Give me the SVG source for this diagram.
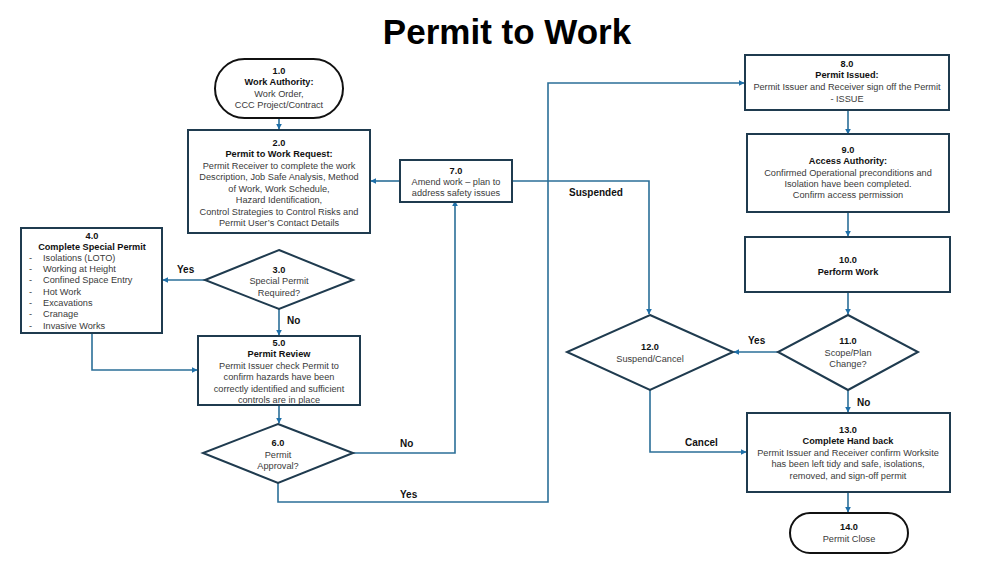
<svg xmlns="http://www.w3.org/2000/svg" width="1003" height="565" viewBox="0 0 1003 565">
<defs>
<marker id="arr" viewBox="0 0 10 10" refX="9" refY="5" markerWidth="6" markerHeight="6" orient="auto" markerUnits="userSpaceOnUse">
<path d="M0,0 L10,5 L0,10 z" fill="#1E6FA8"/>
</marker>
<style>
.box{fill:#fff;stroke:#1F3B4F;stroke-width:2}
.term{fill:#fff;stroke:#111;stroke-width:2}
.t{font-family:"Liberation Sans",Arial,sans-serif;font-size:9.2px;fill:#3a3a3a;text-anchor:middle}
.b{font-family:"Liberation Sans",Arial,sans-serif;font-size:9.2px;font-weight:bold;fill:#111;text-anchor:middle}
.l{font-family:"Liberation Sans",Arial,sans-serif;font-size:9.2px;fill:#3a3a3a}
.lab{font-family:"Liberation Sans",Arial,sans-serif;font-size:10px;font-weight:bold;fill:#111}
.c{fill:none;stroke:#2B6F98;stroke-width:1.6}
</style>
</defs>
<rect width="1003" height="565" fill="#fff"/>
<text x="507" y="44" font-family="Liberation Sans,Arial,sans-serif" font-size="35" font-weight="bold" text-anchor="middle" fill="#000">Permit to Work</text>

<g id="connectors">
<path class="c" d="M279,118 V129" marker-end="url(#arr)"/>
<path class="c" d="M400,181 H371" marker-end="url(#arr)"/>
<path class="c" d="M512,181 H649 V314" marker-end="url(#arr)"/>
<path class="c" d="M205,280 H163" marker-end="url(#arr)"/>
<path class="c" d="M279,309 V335" marker-end="url(#arr)"/>
<path class="c" d="M92,333 V370 H197" marker-end="url(#arr)"/>
<path class="c" d="M279,405 V423" marker-end="url(#arr)"/>
<path class="c" d="M353,453 H455 V201" marker-end="url(#arr)"/>
<path class="c" d="M278,483 V502 H548 V83 H744" marker-end="url(#arr)"/>
<path class="c" d="M848,110 V134" marker-end="url(#arr)"/>
<path class="c" d="M848,212 V236" marker-end="url(#arr)"/>
<path class="c" d="M848,292 V314" marker-end="url(#arr)"/>
<path class="c" d="M778,352 H734" marker-end="url(#arr)"/>
<path class="c" d="M848,390 V412" marker-end="url(#arr)"/>
<path class="c" d="M650,390 V452 H746" marker-end="url(#arr)"/>
<path class="c" d="M848,492 V512" marker-end="url(#arr)"/>
<text class="lab" x="177" y="273">Yes</text>
<text class="lab" x="287" y="324">No</text>
<text class="lab" x="400" y="447">No</text>
<text class="lab" x="400" y="498">Yes</text>
<text class="lab" x="569" y="196">Suspended</text>
<text class="lab" x="748" y="344">Yes</text>
<text class="lab" x="857" y="406">No</text>
<text class="lab" x="685" y="446">Cancel</text>
</g>

<g id="n1">
<rect class="term" x="215" y="59" width="128" height="59" rx="29.5"/>
<text class="b" x="279" y="74">1.0</text>
<text class="b" x="279" y="85">Work Authority:</text>
<text class="t" x="279" y="97">Work Order,</text>
<text class="t" x="279" y="108">CCC Project/Contract</text>
</g>

<g id="n2">
<rect class="box" x="188" y="130" width="182" height="103"/>
<text class="b" x="279" y="146">2.0</text>
<text class="b" x="279" y="157">Permit to Work Request:</text>
<text class="t" x="279" y="169">Permit Receiver to complete the work</text>
<text class="t" x="279" y="180">Description, Job Safe Analysis, Method</text>
<text class="t" x="279" y="192">of Work, Work Schedule,</text>
<text class="t" x="279" y="203">Hazard Identification,</text>
<text class="t" x="279" y="215">Control Strategies to Control Risks and</text>
<text class="t" x="279" y="226">Permit User’s Contact Details</text>
</g>

<g id="n3">
<polygon class="box" points="279,250 353,280 279,309 205,280"/>
<text class="b" x="279" y="273">3.0</text>
<text class="t" x="279" y="284">Special Permit</text>
<text class="t" x="279" y="296">Required?</text>
</g>

<g id="n4">
<rect class="box" x="21" y="228" width="141" height="105"/>
<text class="b" x="92" y="239">4.0</text>
<text class="b" x="92" y="250">Complete Special Permit</text>
<g class="l">
<text x="29" y="261">-</text><text x="43" y="261">Isolations (LOTO)</text>
<text x="29" y="272">-</text><text x="43" y="272">Working at Height</text>
<text x="29" y="283">-</text><text x="43" y="283">Confined Space Entry</text>
<text x="29" y="295">-</text><text x="43" y="295">Hot Work</text>
<text x="29" y="306">-</text><text x="43" y="306">Excavations</text>
<text x="29" y="317">-</text><text x="43" y="317">Cranage</text>
<text x="29" y="329">-</text><text x="43" y="329">Invasive Works</text>
</g>
</g>

<g id="n5">
<rect class="box" x="198" y="336" width="162" height="69"/>
<text class="b" x="279" y="346">5.0</text>
<text class="b" x="279" y="357">Permit Review</text>
<text class="t" x="279" y="369">Permit Issuer check Permit to</text>
<text class="t" x="279" y="380">confirm hazards have been</text>
<text class="t" x="279" y="392">correctly identified and sufficient</text>
<text class="t" x="279" y="403">controls are in place</text>
</g>

<g id="n6">
<polygon class="box" points="278,424 353,453 278,483 203,453"/>
<text class="b" x="278" y="446">6.0</text>
<text class="t" x="278" y="458">Permit</text>
<text class="t" x="278" y="469">Approval?</text>
</g>

<g id="n7">
<rect class="box" x="400" y="160" width="112" height="42"/>
<text class="b" x="456" y="174">7.0</text>
<text class="t" x="456" y="185">Amend work – plan to</text>
<text class="t" x="456" y="196">address safety issues</text>
</g>

<g id="n8">
<rect class="box" x="745" y="55" width="204" height="55"/>
<text class="b" x="847" y="67">8.0</text>
<text class="b" x="847" y="78">Permit Issued:</text>
<text class="t" x="847" y="90">Permit Issuer and Receiver sign off the Permit</text>
<text class="t" x="847" y="102">- ISSUE</text>
</g>

<g id="n9">
<rect class="box" x="747" y="134" width="202" height="78"/>
<text class="b" x="848" y="153">9.0</text>
<text class="b" x="848" y="164">Access Authority:</text>
<text class="t" x="848" y="176">Confirmed Operational preconditions and</text>
<text class="t" x="848" y="187">Isolation have been completed.</text>
<text class="t" x="848" y="198">Confirm access permission</text>
</g>

<g id="n10">
<rect class="box" x="745" y="237" width="205" height="55"/>
<text class="b" x="848" y="263">10.0</text>
<text class="b" x="848" y="275">Perform Work</text>
</g>

<g id="n11">
<polygon class="box" points="848,315 918,352 848,390 778,352"/>
<text class="b" x="848" y="344">11.0</text>
<text class="t" x="848" y="356">Scope/Plan</text>
<text class="t" x="848" y="367">Change?</text>
</g>

<g id="n12">
<polygon class="box" points="650,315 733,352 650,390 567,352"/>
<text class="b" x="650" y="350">12.0</text>
<text class="t" x="650" y="362">Suspend/Cancel</text>
</g>

<g id="n13">
<rect class="box" x="747" y="413" width="203" height="79"/>
<text class="b" x="848" y="433">13.0</text>
<text class="b" x="848" y="444">Complete Hand back</text>
<text class="t" x="848" y="456">Permit Issuer and Receiver confirm Worksite</text>
<text class="t" x="848" y="467">has been left tidy and safe, isolations,</text>
<text class="t" x="848" y="479">removed, and sign-off permit</text>
</g>

<g id="n14">
<rect class="term" x="790" y="513" width="118" height="40" rx="20"/>
<text class="b" x="849" y="530">14.0</text>
<text class="t" x="849" y="542">Permit Close</text>
</g>
</svg>
